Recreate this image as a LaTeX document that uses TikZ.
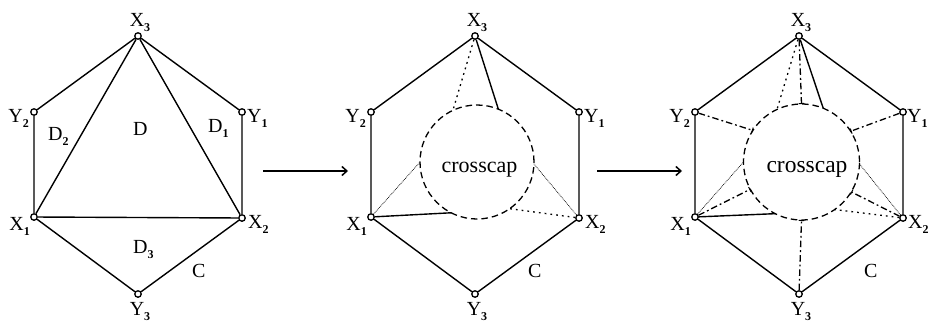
\documentclass[tikz,border=0pt]{standalone}
\usepackage{fontspec}
\setmainfont{Liberation Serif}
\usetikzlibrary{arrows.meta}
\newcommand\lab[2]{#1\raisebox{-5pt}{\fontsize{12}{12}\selectfont\bfseries #2}}
\begin{document}
\begin{tikzpicture}[x=1pt,y=-1pt,
  vtx/.style={circle,draw,fill=white,line width=1.3pt,minimum size=6.5pt,inner sep=0pt},
  edge/.style={line width=1.4pt},
  lbl/.style={font=\fontsize{20}{20}\selectfont,inner sep=0pt},
  capcircle/.style={circle,draw,line width=1.3pt,dash pattern=on 6.5pt off 4pt,minimum size=114pt,inner sep=0pt,outer sep=0pt},
  captext/.style={inner sep=0pt,anchor=base},
  coarse/.style={line width=1.3pt,dash pattern=on 1.8pt off 4pt},
  fine/.style={line width=0.7pt,dash pattern=on 0.8pt off 0.9pt},
  dashdot/.style={line width=1.3pt,dash pattern=on 6.5pt off 3pt on 1.8pt off 3pt,-{Bar[width=5.5pt,line width=1pt]}},
  arr/.style={line width=1.5pt,-{Straight Barb[length=5pt,width=9pt,line width=1.5pt]}},
]
\useasboundingbox (0,0) rectangle (931,327);

% ---------- hexagon 1 ----------
\node[vtx] (a3) at (138,36) {};
\node[vtx] (ay2) at (34,112) {};
\node[vtx] (ay1) at (242,112) {};
\node[vtx] (a1) at (34,217) {};
\node[vtx] (a2) at (242,218) {};
\node[vtx] (ay3) at (138,294) {};
\draw[edge] (a3)--(ay1)--(a2)--(ay3)--(a1)--(ay2)--(a3);
\draw[edge] (a1)--(a2)--(a3)--(a1);
\node[lbl,anchor=base] (la3) at (140,26) {\lab{X}{3}};
\node[lbl,anchor=base east] (lay2) at (29,122) {\lab{Y}{2}};
\node[lbl,anchor=base west] (lay1) at (247,122) {\lab{Y}{1}};
\node[lbl,anchor=base east] (la1) at (30,230) {\lab{X}{1}};
\node[lbl,anchor=base west] (la2) at (248,228) {\lab{X}{2}};
\node[lbl,anchor=base] (lay3) at (140,315) {\lab{Y}{3}};
\node[lbl,anchor=base west] (ld2) at (48,140) {\lab{D}{2}};
\node[lbl,anchor=base west] (ld) at (133,135) {D};
\node[lbl,anchor=base west] (ld1) at (208,132) {\lab{D}{1}};
\node[lbl,anchor=base west] (ld3) at (133,253) {\lab{D}{3}};
\node[lbl,anchor=base west] (lc1) at (192,277) {C};

% ---------- arrows ----------
\coordinate (s1) at (263,171);
\coordinate (e1) at (348,171);
\draw[arr] (s1) -- (e1);
\coordinate (s2) at (597,171);
\coordinate (e2) at (682,171);
\draw[arr] (s2) -- (e2);

% ---------- hexagon 2 ----------
\node[vtx] (b3) at (475,36) {};
\node[vtx] (by2) at (371,112) {};
\node[vtx] (by1) at (579,112) {};
\node[vtx] (b1) at (371,217) {};
\node[vtx] (b2) at (579,218) {};
\node[vtx] (by3) at (475,294) {};
\draw[edge] (b3)--(by1)--(b2)--(by3)--(b1)--(by2)--(b3);
\node[capcircle] (bc) at (477,162) {};
\node[captext,font=\fontsize{22}{22}\selectfont] (bt) at (479.5,172) {crosscap};
\draw[coarse] (b3) -- (bc.115);
\draw[edge] (b3) -- (bc.68);
\draw[fine] (b1) -- (bc.180);
\draw[edge] (b1) -- (bc.243);
\draw[fine] (b2) -- (bc.-2);
\draw[coarse] (b2) -- (bc.305);
\node[lbl,anchor=base] (lb3) at (477,26) {\lab{X}{3}};
\node[lbl,anchor=base east] (lby2) at (366,122) {\lab{Y}{2}};
\node[lbl,anchor=base west] (lby1) at (584,122) {\lab{Y}{1}};
\node[lbl,anchor=base east] (lb1) at (367,230) {\lab{X}{1}};
\node[lbl,anchor=base west] (lb2) at (585,228) {\lab{X}{2}};
\node[lbl,anchor=base] (lby3) at (477,315) {\lab{Y}{3}};
\node[lbl,anchor=base west] (lc2) at (528,277) {C};

% ---------- hexagon 3 ----------
\node[vtx] (c3) at (799,36) {};
\node[vtx] (cy2) at (695,112) {};
\node[vtx] (cy1) at (903,112) {};
\node[vtx] (c1) at (695,217) {};
\node[vtx] (c2) at (903,218) {};
\node[vtx] (cy3) at (799,294) {};
\draw[edge] (c3)--(cy1)--(c2)--(cy3)--(c1)--(cy2)--(c3);
\node[capcircle,minimum size=116pt] (cc) at (801.5,162) {};
\node[captext,font=\fontsize{23.5}{23.5}\selectfont] (ct) at (807,172) {crosscap};
\draw[coarse] (c3) -- (cc.115);
\draw[edge] (c3) -- (cc.68);
\draw[fine] (c1) -- (cc.180);
\draw[edge] (c1) -- (cc.243);
\draw[fine] (c2) -- (cc.-2);
\draw[coarse] (c2) -- (cc.305);
\draw[dashdot] (c3) -- (cc.90);
\draw[dashdot] (cy2) -- (cc.147);
\draw[dashdot] (cy1) -- (cc.32);
\draw[dashdot] (c1) -- (cc.208);
\draw[dashdot] (c2) -- (cc.329);
\draw[dashdot] (cy3) -- (cc.270);
\node[lbl,anchor=base] (lc3) at (801,26) {\lab{X}{3}};
\node[lbl,anchor=base east] (lcy2) at (690,122) {\lab{Y}{2}};
\node[lbl,anchor=base west] (lcy1) at (907,122) {\lab{Y}{1}};
\node[lbl,anchor=base east] (lc1x) at (691,230) {\lab{X}{1}};
\node[lbl,anchor=base west] (lc2x) at (908,228) {\lab{X}{2}};
\node[lbl,anchor=base] (lcy3) at (801,315) {\lab{Y}{3}};
\node[lbl,anchor=base west] (lc3c) at (864,277) {C};
\end{tikzpicture}
\end{document}
